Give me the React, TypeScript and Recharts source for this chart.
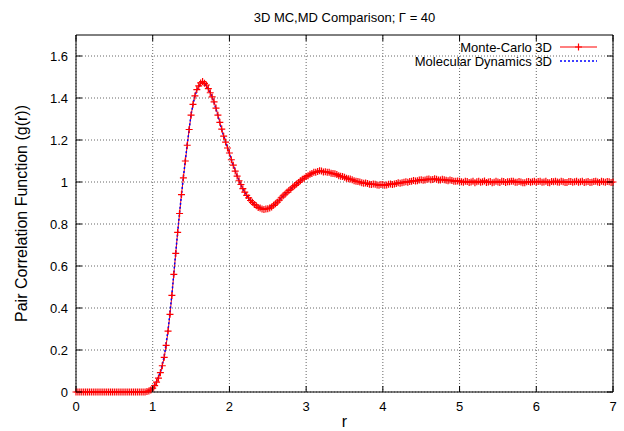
import React from "react";
import {
  LineChart,
  Line,
  XAxis,
  YAxis,
  CartesianGrid,
  ReferenceLine,
} from "recharts";

// Monte-Carlo sample grid (finer, drawn with + markers)
const mcR = [
  0, 0.025, 0.05, 0.075, 0.1, 0.125, 0.15, 0.175, 0.2, 0.225, 0.25, 0.275, 0.3, 0.325, 0.35, 0.375, 0.4, 0.425, 0.45, 0.475,
  0.5, 0.525, 0.55, 0.575, 0.6, 0.625, 0.65, 0.675, 0.7, 0.725, 0.75, 0.775, 0.8, 0.825, 0.85, 0.875, 0.9, 0.925, 0.95, 0.975,
  1, 1.025, 1.05, 1.075, 1.1, 1.125, 1.15, 1.175, 1.2, 1.225, 1.25, 1.275, 1.3, 1.325, 1.35, 1.375, 1.4, 1.425, 1.45, 1.475,
  1.5, 1.525, 1.55, 1.575, 1.6, 1.625, 1.65, 1.675, 1.7, 1.725, 1.75, 1.775, 1.8, 1.825, 1.85, 1.875, 1.9, 1.925, 1.95, 1.975,
  2, 2.025, 2.05, 2.075, 2.1, 2.125, 2.15, 2.175, 2.2, 2.225, 2.25, 2.275, 2.3, 2.325, 2.35, 2.375, 2.4, 2.425, 2.45, 2.475,
  2.5, 2.525, 2.55, 2.575, 2.6, 2.625, 2.65, 2.675, 2.7, 2.725, 2.75, 2.775, 2.8, 2.825, 2.85, 2.875, 2.9, 2.925, 2.95, 2.975,
  3, 3.025, 3.05, 3.075, 3.1, 3.125, 3.15, 3.175, 3.2, 3.225, 3.25, 3.275, 3.3, 3.325, 3.35, 3.375, 3.4, 3.425, 3.45, 3.475,
  3.5, 3.525, 3.55, 3.575, 3.6, 3.625, 3.65, 3.675, 3.7, 3.725, 3.75, 3.775, 3.8, 3.825, 3.85, 3.875, 3.9, 3.925, 3.95, 3.975,
  4, 4.025, 4.05, 4.075, 4.1, 4.125, 4.15, 4.175, 4.2, 4.225, 4.25, 4.275, 4.3, 4.325, 4.35, 4.375, 4.4, 4.425, 4.45, 4.475,
  4.5, 4.525, 4.55, 4.575, 4.6, 4.625, 4.65, 4.675, 4.7, 4.725, 4.75, 4.775, 4.8, 4.825, 4.85, 4.875, 4.9, 4.925, 4.95, 4.975,
  5, 5.025, 5.05, 5.075, 5.1, 5.125, 5.15, 5.175, 5.2, 5.225, 5.25, 5.275, 5.3, 5.325, 5.35, 5.375, 5.4, 5.425, 5.45, 5.475,
  5.5, 5.525, 5.55, 5.575, 5.6, 5.625, 5.65, 5.675, 5.7, 5.725, 5.75, 5.775, 5.8, 5.825, 5.85, 5.875, 5.9, 5.925, 5.95, 5.975,
  6, 6.025, 6.05, 6.075, 6.1, 6.125, 6.15, 6.175, 6.2, 6.225, 6.25, 6.275, 6.3, 6.325, 6.35, 6.375, 6.4, 6.425, 6.45, 6.475,
  6.5, 6.525, 6.55, 6.575, 6.6, 6.625, 6.65, 6.675, 6.7, 6.725, 6.75, 6.775, 6.8, 6.825, 6.85, 6.875, 6.9, 6.925, 6.95, 6.975,
  7,
];

const mcValues = [
  0, 0, 0, 0, 0, 0, 0, 0, 0, 0, 0, 0, 0, 0, 0, 0, 0, 0, 0, 0,
  0, 0, 0, 0, 0, 0, 0, 0, 0, 0, 0, 0, 0, 0, 0, 0, 0, 0.002, 0.005, 0.01,
  0.018, 0.03, 0.047, 0.066, 0.092, 0.125, 0.165, 0.222, 0.29, 0.37, 0.46, 0.56, 0.66, 0.76, 0.85, 0.94, 1.02, 1.1, 1.175, 1.25,
  1.318, 1.37, 1.41, 1.44, 1.458, 1.472, 1.478, 1.47, 1.462, 1.445, 1.425, 1.405, 1.382, 1.352, 1.318, 1.284, 1.252, 1.218, 1.19, 1.162,
  1.138, 1.106, 1.08, 1.052, 1.028, 1.006, 0.988, 0.968, 0.952, 0.936, 0.924, 0.912, 0.903, 0.893, 0.887, 0.879, 0.876, 0.871, 0.869, 0.872,
  0.873, 0.876, 0.881, 0.889, 0.896, 0.904, 0.914, 0.925, 0.934, 0.942, 0.951, 0.96, 0.966, 0.976, 0.983, 0.99, 0.998, 1.006, 1.013, 1.018,
  1.026, 1.03, 1.037, 1.041, 1.046, 1.047, 1.05, 1.053, 1.052, 1.048, 1.049, 1.047, 1.046, 1.042, 1.04, 1.039, 1.036, 1.03, 1.027, 1.026,
  1.023, 1.018, 1.015, 1.014, 1.011, 1.006, 1.003, 1.002, 1.0, 0.996, 0.994, 0.995, 0.993, 0.989, 0.988, 0.99, 0.989, 0.986, 0.985, 0.988,
  0.988, 0.984, 0.986, 0.989, 0.991, 0.988, 0.99, 0.993, 0.996, 0.994, 0.997, 0.999, 1.001, 0.999, 1.002, 1.004, 1.007, 1.005, 1.006, 1.009,
  1.011, 1.008, 1.01, 1.013, 1.014, 1.011, 1.012, 1.015, 1.013, 1.01, 1.01, 1.013, 1.011, 1.008, 1.006, 1.009, 1.007, 1.004, 1.003, 1.005,
  1.004, 1.001, 0.999, 1.003, 1.002, 0.998, 1.0, 1.004, 0.997, 1.001, 1.003, 0.999, 1.001, 1.005, 0.998, 1.0, 1.002, 0.997, 0.999, 1.003,
  1.0, 0.998, 1.003, 1.002, 0.998, 1.001, 1.001, 1.004, 1.004, 0.999, 0.999, 1.002, 1.0, 0.996, 0.997, 1.001, 1.002, 0.999, 1.001, 1.003,
  0.999, 1.002, 1.003, 0.999, 1.0, 1.003, 0.998, 0.997, 1.002, 1.001, 1.004, 1.0, 0.999, 1.003, 1.001, 0.998, 0.998, 1.002, 1.002, 0.999,
  1.001, 1.003, 0.999, 1.001, 1.003, 0.998, 1.0, 1.002, 0.998, 0.999, 1.002, 1.004, 1.0, 0.998, 1.003, 1.001, 0.999, 1.002, 1.001, 0.998,
  1.0,
];

// Molecular Dynamics sample grid
const mdR = [
  0, 0.05, 0.1, 0.15, 0.2, 0.25, 0.3, 0.35, 0.4, 0.45,
  0.5, 0.55, 0.6, 0.65, 0.7, 0.75, 0.8, 0.85, 0.9, 0.95,
  1, 1.05, 1.1, 1.15, 1.2, 1.25, 1.3, 1.35, 1.4, 1.45,
  1.5, 1.55, 1.6, 1.65, 1.7, 1.75, 1.8, 1.85, 1.9, 1.95,
  2, 2.05, 2.1, 2.15, 2.2, 2.25, 2.3, 2.35, 2.4, 2.45,
  2.5, 2.55, 2.6, 2.65, 2.7, 2.75, 2.8, 2.85, 2.9, 2.95,
  3, 3.05, 3.1, 3.15, 3.2, 3.25, 3.3, 3.35, 3.4, 3.45,
  3.5, 3.55, 3.6, 3.65, 3.7, 3.75, 3.8, 3.85, 3.9, 3.95,
  4, 4.05, 4.1, 4.15, 4.2, 4.25, 4.3, 4.35, 4.4, 4.45,
  4.5, 4.55, 4.6, 4.65, 4.7, 4.75, 4.8, 4.85, 4.9, 4.95,
  5, 5.05, 5.1, 5.15, 5.2, 5.25, 5.3, 5.35, 5.4, 5.45,
  5.5, 5.55, 5.6, 5.65, 5.7, 5.75, 5.8, 5.85, 5.9, 5.95,
  6, 6.05, 6.1, 6.15, 6.2, 6.25, 6.3, 6.35, 6.4, 6.45,
  6.5, 6.55, 6.6, 6.65, 6.7, 6.75, 6.8, 6.85, 6.9, 6.95,
  7,
];

const mdValues = [
  0, 0, 0, 0, 0, 0, 0, 0, 0, 0,
  0, 0, 0, 0, 0, 0, 0, 0, 0.002, 0.006,
  0.02, 0.05, 0.095, 0.17, 0.295, 0.465, 0.665, 0.855, 1.025, 1.18,
  1.322, 1.412, 1.455, 1.472, 1.458, 1.428, 1.378, 1.315, 1.248, 1.192,
  1.135, 1.078, 1.03, 0.985, 0.95, 0.926, 0.905, 0.889, 0.879, 0.873,
  0.875, 0.883, 0.894, 0.916, 0.932, 0.953, 0.968, 0.981, 0.999, 1.011,
  1.024, 1.035, 1.043, 1.048, 1.05, 1.047, 1.043, 1.039, 1.033, 1.028,
  1.02, 1.016, 1.009, 1.005, 0.999, 0.996, 0.991, 0.99, 0.988, 0.987,
  0.987, 0.989, 0.989, 0.992, 0.995, 0.999, 1.0, 1.004, 1.005, 1.008,
  1.009, 1.012, 1.012, 1.013, 1.011, 1.012, 1.009, 1.008, 1.005, 1.004,
  1.002, 1.001, 1.0, 1.002, 0.999, 1.001, 1.0, 1.002, 0.999, 1.001,
  1.002, 1.0, 1.001, 0.999, 1.002, 1.0, 1.001, 0.999, 1.001, 1.003,
  1.0, 1.001, 1.002, 0.999, 1.001, 1.002, 1.0, 1.003, 1.0, 1.001,
  1.002, 1.0, 1.001, 1.002, 1.0, 0.999, 1.002, 1.001, 1.0, 1.002,
  1.001,
];

const xTicks = [0, 1, 2, 3, 4, 5, 6, 7];
const yTicks = [0, 0.2, 0.4, 0.6, 0.8, 1, 1.2, 1.4, 1.6];

const mcName = "Monte-Carlo 3D";
const mdName = "Molecular Dynamics 3D";
const title = "3D MC,MD Comparison; \u0393 = 40";

const mcData = mcR.map((r, i) => ({ r, g: mcValues[i] }));
const mdData = mdR.map((r, i) => ({ r, g: mdValues[i] }));

const W = 624;
const H = 431;
const LEFT = 76;
const RIGHT = 613;
const TOP = 35;
const BOTTOM = 392;
const TICK = 6;
const FONT = "'Liberation Sans', Arial, Helvetica, sans-serif";

function XTick({ x, payload }: any) {
  return (
    <g>
      <line x1={x} x2={x} y1={BOTTOM} y2={BOTTOM - TICK} stroke="#000" />
      <line x1={x} x2={x} y1={TOP} y2={TOP + TICK} stroke="#000" />
      <text x={x} y={BOTTOM + 19} textAnchor="middle" fontSize={13} fill="#000">
        {payload.value}
      </text>
    </g>
  );
}

function YTick({ y, payload }: any) {
  return (
    <g>
      <line x1={LEFT} x2={LEFT + TICK} y1={y} y2={y} stroke="#000" />
      <line x1={RIGHT} x2={RIGHT - TICK} y1={y} y2={y} stroke="#000" />
      <text x={LEFT - 8} y={y + 4.5} textAnchor="end" fontSize={13} fill="#000">
        {payload.value}
      </text>
    </g>
  );
}

function PlusDot({ cx, cy, index }: any) {
  if (cx == null || cy == null) return <g key={index} />;
  return (
    <path
      key={index}
      d={`M${cx - 3.5},${cy}h7M${cx},${cy - 3.5}v7`}
      stroke="#ff0000"
      strokeWidth={1.2}
      fill="none"
    />
  );
}

export default function App() {
  return (
    <div
      style={{
        position: "absolute",
        left: 0,
        top: 0,
        width: W,
        height: H,
        background: "#fff",
        fontFamily: FONT,
      }}
    >
      <LineChart
        width={W}
        height={H}
        margin={{ top: TOP, right: W - RIGHT, bottom: 0, left: 0 }}
      >
        <CartesianGrid
          stroke="#666"
          strokeDasharray="1 2"
          horizontalValues={yTicks}
          verticalValues={xTicks}
        />
        <XAxis
          type="number"
          dataKey="r"
          domain={[0, 7]}
          ticks={xTicks}
          height={H - BOTTOM}
          tickLine={false}
          tickSize={0}
          tickMargin={0}
          axisLine={{ stroke: "#000" }}
          tick={<XTick />}
          label={{
            content: () => (
              <text x={(LEFT + RIGHT) / 2} y={427} textAnchor="middle" fontSize={16} fill="#000">
                r
              </text>
            ),
          }}
        />
        <YAxis
          type="number"
          domain={[0, 1.7]}
          ticks={yTicks}
          width={LEFT}
          tickLine={false}
          tickSize={0}
          tickMargin={0}
          axisLine={{ stroke: "#000" }}
          tick={<YTick />}
          label={{
            content: () => (
              <text
                x={27}
                y={(TOP + BOTTOM) / 2}
                transform={`rotate(-90 27 ${(TOP + BOTTOM) / 2})`}
                textAnchor="middle"
                fontSize={16}
                fill="#000"
              >
                Pair Correlation Function (g(r))
              </text>
            ),
          }}
        />
        <ReferenceLine y={1.7} stroke="#000" />
        <ReferenceLine x={7} stroke="#000" />
        <Line
          data={mcData}
          type="linear"
          dataKey="g"
          name={mcName}
          stroke="#ff0000"
          strokeWidth={1}
          dot={<PlusDot />}
          activeDot={false}
          isAnimationActive={false}
        />
        <Line
          data={mdData}
          type="linear"
          dataKey="g"
          name={mdName}
          stroke="#0000ff"
          strokeWidth={1.5}
          strokeDasharray="2 2"
          dot={false}
          activeDot={false}
          isAnimationActive={false}
        />
      </LineChart>
      <svg
        width={W}
        height={H}
        style={{ position: "absolute", left: 0, top: 0, pointerEvents: "none" }}
      >
        <text x={(LEFT + RIGHT) / 2} y={22} textAnchor="middle" fontSize={13} fill="#000">
          {title}
        </text>
        <text x={552} y={51.5} textAnchor="end" fontSize={13} fill="#000">
          {mcName}
        </text>
        <line x1={560} x2={597} y1={47} y2={47} stroke="#ff0000" strokeWidth={1.2} />
        <path d="M575,47h7M578.5,43.5v7" stroke="#ff0000" strokeWidth={1.2} />
        <text x={552} y={65.5} textAnchor="end" fontSize={13} fill="#000">
          {mdName}
        </text>
        <line
          x1={560}
          x2={597}
          y1={61}
          y2={61}
          stroke="#0000ff"
          strokeWidth={1.5}
          strokeDasharray="2 2"
        />
      </svg>
    </div>
  );
}
